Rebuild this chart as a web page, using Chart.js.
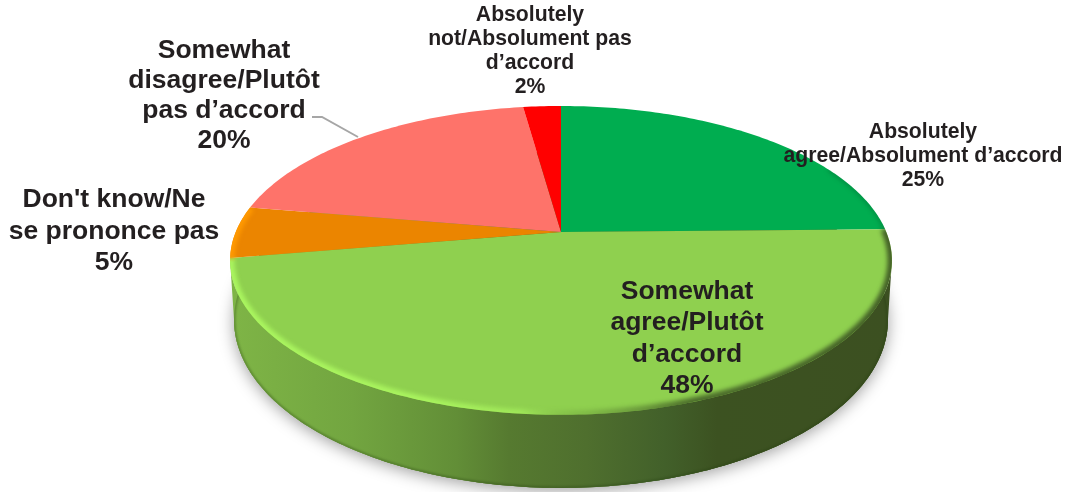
<!DOCTYPE html>
<html>
<head>
<meta charset="utf-8">
<title>Pie</title>
<script src="https://cdn.jsdelivr.net/npm/chart.js@4"></script>
<style>
  html, body { margin: 0; padding: 0; background: #fff; overflow: hidden; }
  canvas { display: block; }
</style>
</head>
<body>
<canvas id="pie" width="1076" height="492"></canvas>
<script>
const categories = [
  "Absolutely agree/Absolument d’accord",
  "Somewhat agree/Plutôt d’accord",
  "Don't know/Ne se prononce pas",
  "Somewhat disagree/Plutôt pas d’accord",
  "Absolutely not/Absolument pas d’accord",
];
// read from the slice edges, labels show them rounded
const shares = [24.7, 47.6, 5.4, 20.1, 2.2];
const sliceColors = ["#00ad50", "#8fd04f", "#eb8500", "#fe736a", "#ff0000"];
const labelLines = [
  ["Absolutely", "agree/Absolument d’accord"],
  ["Somewhat", "agree/Plutôt", "d’accord"],
  ["Don't know/Ne", "se prononce pas"],
  ["Somewhat", "disagree/Plutôt", "pas d’accord"],
  ["Absolutely", "not/Absolument pas", "d’accord"],
];

// label placement: centre x, first line y, line height, font size
const labelBoxes = [
  { x: 923, y: 132, lh: 24, size: 21.2 },
  { x: 687, y: 291.5, lh: 31.4, size: 26.5 },
  { x: 114, y: 200, lh: 31.5, size: 26.5 },
  { x: 224, y: 50.5, lh: 30, size: 26.5 },
  { x: 530, y: 15, lh: 24.2, size: 21.2 },
];

// tilted disc: circle -> perspective ellipse
const tilt = { sx: 1.402, sy: 0.643, k: -0.184 };
const base = { sx: 0.988, sy: 1.088, drop: 57 };

function project(arc, a, level) {
  const u = Math.cos(a), v = Math.sin(a);
  const w = 1 + tilt.k * v;
  return {
    x: arc.x + (level ? base.sx : 1) * tilt.sx * arc.outerRadius * u / w,
    y: arc.y + (level ? base.drop : 0) + (level ? base.sy : 1) * tilt.sy * arc.outerRadius * v / w,
  };
}

function rimPath(ctx, arc, from, to, level, move = true) {
  const steps = Math.max(8, Math.ceil(Math.abs(to - from) * 60));
  for (let i = 0; i <= steps; i++) {
    const p = project(arc, from + (to - from) * i / steps, level);
    if (i === 0 && move) ctx.moveTo(p.x, p.y);
    else ctx.lineTo(p.x, p.y);
  }
}

function fullDisc(ctx, arc, level) {
  ctx.beginPath();
  rimPath(ctx, arc, 0, Math.PI * 2, level);
  ctx.closePath();
}

function sideGradient(ctx, arc) {
  const r = tilt.sx * arc.outerRadius;
  const g = ctx.createLinearGradient(arc.x - r, 0, arc.x + r, 0);
  g.addColorStop(0, "#7eb446");
  g.addColorStop(0.18, "#72a540");
  g.addColorStop(0.34, "#628e37");
  g.addColorStop(0.42, "#567a30");
  g.addColorStop(0.54, "#4f6f2e");
  g.addColorStop(0.66, "#42602a");
  g.addColorStop(0.74, "#3c5221");
  g.addColorStop(1, "#3c5021");
  return g;
}

const tiltedPie = {
  id: "tiltedPie",
  beforeDatasetsDraw(chart) {
    const ctx = chart.ctx;
    const front = chart.getDatasetMeta(0).data[1];
    // where the rim is widest, the wall silhouette hangs from here
    const side = Math.asin(-tilt.k);

    // soft shadow under the disc
    ctx.save();
    ctx.shadowColor = "rgba(0,0,0,0.38)";
    ctx.shadowBlur = 16;
    ctx.shadowOffsetY = 3;
    ctx.fillStyle = "#4f6f2e";
    fullDisc(ctx, front, 1);
    ctx.fill();
    ctx.restore();

    // side wall belongs to the big front slice
    ctx.save();
    ctx.beginPath();
    rimPath(ctx, front, side, Math.PI - side, 0);
    rimPath(ctx, front, Math.PI - side, side, 1, false);
    ctx.closePath();
    ctx.fillStyle = sideGradient(ctx, front);
    ctx.fill();
    fullDisc(ctx, front, 1);
    ctx.fill();
    ctx.clip();
    ctx.filter = "blur(1px)";
    ctx.strokeStyle = "rgba(35,60,15,0.35)";
    ctx.lineWidth = 3;
    fullDisc(ctx, front, 1);
    ctx.stroke();
    ctx.restore();
  },
  beforeDatasetDraw(chart) {
    const ctx = chart.ctx;
    const arcs = chart.getDatasetMeta(0).data;

    arcs.forEach((arc, i) => {
      ctx.beginPath();
      ctx.moveTo(arc.x, arc.y);
      rimPath(ctx, arc, arc.startAngle, arc.endAngle, 0, false);
      ctx.closePath();
      ctx.fillStyle = sliceColors[i];
      ctx.fill();
    });

    // bevel along the rim
    const front = arcs[1];
    const r = tilt.sx * front.outerRadius;
    ctx.save();
    fullDisc(ctx, front, 0);
    ctx.clip();
    ctx.filter = "blur(2px)";
    ctx.lineWidth = 9;

    const bevel = ctx.createLinearGradient(front.x - r, 0, front.x + r, 0);
    bevel.addColorStop(0, "rgba(170,245,95,1)");
    bevel.addColorStop(0.3, "rgba(170,245,95,0.95)");
    bevel.addColorStop(0.44, "rgba(170,245,95,0.6)");
    bevel.addColorStop(0.52, "rgba(110,160,60,0.35)");
    bevel.addColorStop(0.7, "rgba(60,85,35,0.8)");
    bevel.addColorStop(1, "rgba(60,85,35,0.9)");
    ctx.strokeStyle = bevel;
    ctx.beginPath();
    rimPath(ctx, front, front.startAngle, front.endAngle, 0);
    ctx.stroke();

    ctx.strokeStyle = "#ff9900";
    ctx.beginPath();
    rimPath(ctx, arcs[2], arcs[2].startAngle, arcs[2].endAngle, 0);
    ctx.stroke();

    ctx.lineWidth = 4;
    ctx.strokeStyle = "rgba(0,105,50,0.45)";
    ctx.beginPath();
    rimPath(ctx, arcs[0], arcs[0].startAngle + 1.1, arcs[0].endAngle, 0);
    ctx.stroke();
    ctx.restore();

    return false; // slices are done, skip the flat ones
  },
  afterDatasetsDraw(chart) {
    const ctx = chart.ctx;

    // leader for the salmon slice label
    ctx.save();
    ctx.strokeStyle = "#a6a6a6";
    ctx.lineWidth = 2;
    ctx.beginPath();
    ctx.moveTo(312, 117);
    ctx.lineTo(322, 117);
    ctx.lineTo(358, 137);
    ctx.stroke();

    ctx.fillStyle = "#231f20";
    ctx.textAlign = "center";
    ctx.textBaseline = "middle";
    labelLines.forEach((lines, i) => {
      const box = labelBoxes[i];
      ctx.font = `bold ${box.size}px "Liberation Sans", Arial, sans-serif`;
      [...lines, `${Math.round(shares[i])}%`].forEach((line, n) => {
        ctx.fillText(line, box.x, box.y + n * box.lh);
      });
    });
    ctx.restore();
  },
};

new Chart(document.getElementById("pie"), {
  type: "pie",
  data: {
    labels: categories,
    datasets: [{ data: shares, backgroundColor: sliceColors, borderWidth: 0 }],
  },
  options: {
    responsive: false,
    animation: false,
    layout: { padding: { left: 46, bottom: 28 } },
    plugins: { legend: { display: false }, tooltip: { enabled: false } },
  },
  plugins: [tiltedPie],
});
</script>
</body>
</html>
